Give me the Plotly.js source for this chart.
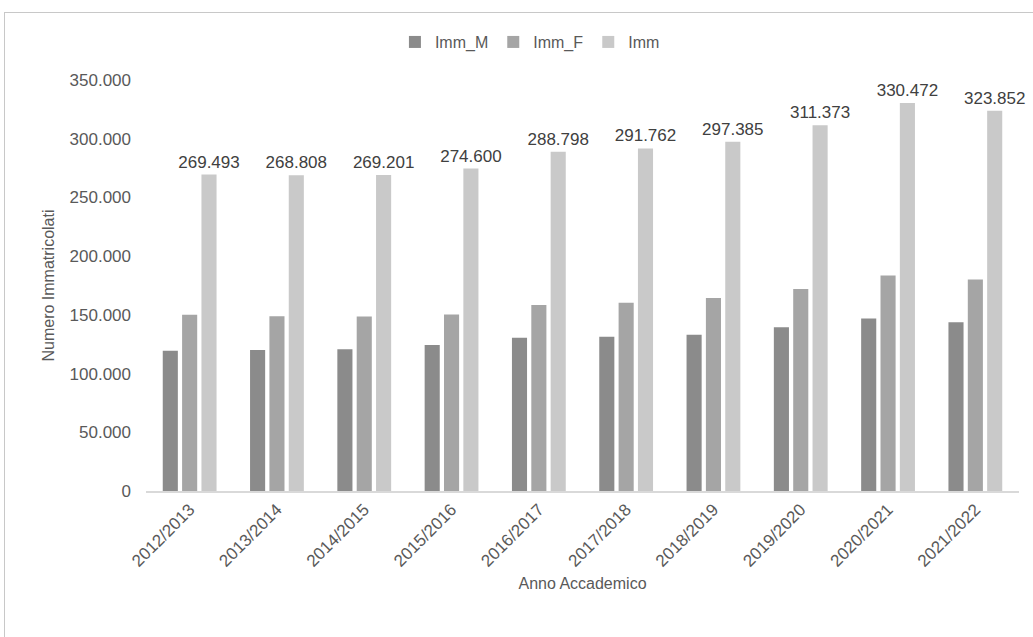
<!DOCTYPE html>
<html>
<head>
<meta charset="utf-8">
<script src="https://cdn.plot.ly/plotly-3.0.1.min.js"></script>
<style>
  html, body { margin: 0; padding: 0; background: #ffffff; }
  #wrap { position: relative; width: 1033px; height: 637px; overflow: hidden; }
  #chart { position: absolute; left: 0; top: 0; width: 1033px; height: 637px; }
  #frame { position: absolute; left: 4px; top: 12px; width: 1040px; height: 640px;
           border-top: 1px solid #c8c8c8; border-left: 1px solid #c8c8c8; pointer-events: none; }
</style>
</head>
<body>
<div id="wrap">
  <div id="chart"></div>
  <div id="frame"></div>
</div>
<script>
const categories = ["2012/2013","2013/2014","2014/2015","2015/2016","2016/2017",
                    "2017/2018","2018/2019","2019/2020","2020/2021","2021/2022"];
const immM = [119500, 120000, 120700, 124300, 130400, 131400, 133000, 139400, 147000, 143800];
const immF = [150000, 148800, 148500, 150300, 158400, 160400, 164400, 172000, 183500, 180100];
const imm  = [269493, 268808, 269201, 274600, 288798, 291762, 297385, 311373, 330472, 323852];
const seriesNames = ["Imm_M", "Imm_F", "Imm"];

const font = "Liberation Sans, Arial, sans-serif";

const traces = [
  { type: "bar", name: seriesNames[0], x: categories, y: immM,
    marker: { color: "#8b8b8b" }, hoverinfo: "skip" },
  { type: "bar", name: seriesNames[1], x: categories, y: immF,
    marker: { color: "#a5a5a5" }, hoverinfo: "skip" },
  { type: "bar", name: seriesNames[2], x: categories, y: imm,
    marker: { color: "#c9c9c9" }, hoverinfo: "skip",
    texttemplate: "%{y:,d}", textposition: "outside", cliponaxis: false,
    constraintext: "none",
    textfont: { family: font, size: 17, color: "#404040" } }
];

const layout = {
  width: 1033, height: 637,
  paper_bgcolor: "rgba(0,0,0,0)", plot_bgcolor: "rgba(0,0,0,0)",
  separators: ",.",
  margin: { l: 146, r: 14, t: 80, b: 146 },
  barmode: "group", bargap: 0.335, bargroupgap: 0.22,
  font: { family: font, color: "#595959" },
  showlegend: true,
  legend: { orientation: "h", xref: "container", x: 0.513, xanchor: "center",
            yref: "container", y: 0.934, yanchor: "middle",
            font: { family: font, size: 16, color: "#595959" },
            itemwidth: 30, tracegroupgap: 0 },
  xaxis: {
    type: "category",
    tickangle: -45,
    tickfont: { family: font, size: 17, color: "#595959" },
    showline: true, linecolor: "#d9d9d9", linewidth: 2,
    ticks: "", showgrid: false, zeroline: false,
    title: { text: "Anno Accademico", font: { family: font, size: 16, color: "#595959" }, standoff: 8 }
  },
  yaxis: {
    range: [0, 350000], dtick: 50000, tickformat: ",d",
    tickfont: { family: font, size: 17, color: "#595959" },
    showgrid: false, zeroline: false, showline: false, ticks: "",
    ticklabelstandoff: 14,
    title: { text: "Numero Immatricolati", font: { family: font, size: 16, color: "#595959" }, standoff: 10 }
  }
};

Plotly.newPlot("chart", traces, layout, { staticPlot: true, displayModeBar: false });
</script>
</body>
</html>
